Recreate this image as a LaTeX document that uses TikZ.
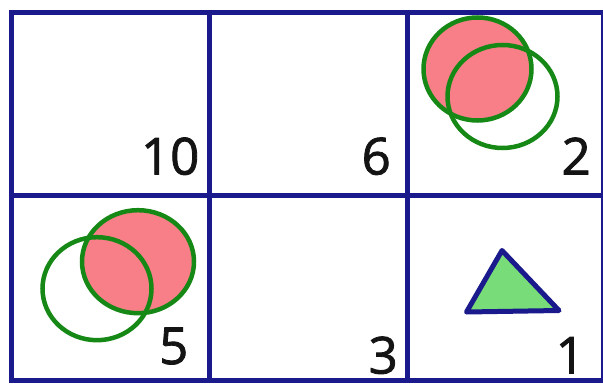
\documentclass[tikz,border=0pt]{standalone}
\usepackage{fontspec}
\setmainfont{Open Sans}
\newfontfamily\numfont{Open Sans}[FakeBold=1.6]
\definecolor{gridnavy}{RGB}{26,26,140}
\definecolor{ringgreen}{RGB}{22,136,22}
\definecolor{pinkfill}{RGB}{248,126,136}
\definecolor{trifill}{RGB}{120,220,120}
\tikzset{
  gridline/.style={draw=gridnavy,line width=5pt},
  ring/.style={draw=ringgreen,line width=4.5pt},
  cellnum/.style={anchor=base east,inner sep=0pt,font=\numfont\fontsize{51}{60}\selectfont,text=black!92},
}
\begin{document}
\begin{tikzpicture}[x=1pt,y=-1pt]
\useasboundingbox (0,0) rectangle (603,385);
\fill[white] (0,0) rectangle (603,385);
% top-right cell circles
\fill[pinkfill] (477.5,69) ellipse [x radius=54,y radius=51.5];
\draw[ring] (502.5,96.5) ellipse [x radius=55,y radius=51.5];
\draw[ring] (477.5,69) ellipse [x radius=54,y radius=51.5];
% bottom-left cell circles
\fill[pinkfill] (138,261.7) ellipse [x radius=56,y radius=51.5];
\draw[ring] (97,288.7) ellipse [x radius=54.5,y radius=51.5];
\draw[ring] (138,261.7) ellipse [x radius=56,y radius=51.5];
% triangle
\draw[draw=gridnavy,fill=trifill,line width=5pt,line join=round]
  (502,250.5) -- (466.5,312) -- (559,310.5) -- cycle;
% grid
\draw[gridline] (11.5,12.5) -- (604,12.5);
\draw[gridline] (11.5,196) -- (604,196);
\draw[gridline] (11.5,380) -- (604,380);
\draw[gridline] (11.5,10) -- (11.5,382.5);
\draw[gridline] (209.5,10) -- (209.5,382.5);
\draw[gridline] (407.5,10) -- (407.5,382.5);
\draw[gridline] (603,10) -- (603,382.5);
% numbers
\node[cellnum] (n10) at (199.5,174.5) {10};
\node[cellnum] (n6) at (391,174.5) {6};
\node[cellnum] (n2) at (591,174.5) {2};
\node[cellnum] (n5) at (188.5,364) {5};
\node[cellnum] (n3) at (398,373.5) {3};
\node[cellnum] (n1) at (585,373.5) {1};
\end{tikzpicture}
\end{document}
